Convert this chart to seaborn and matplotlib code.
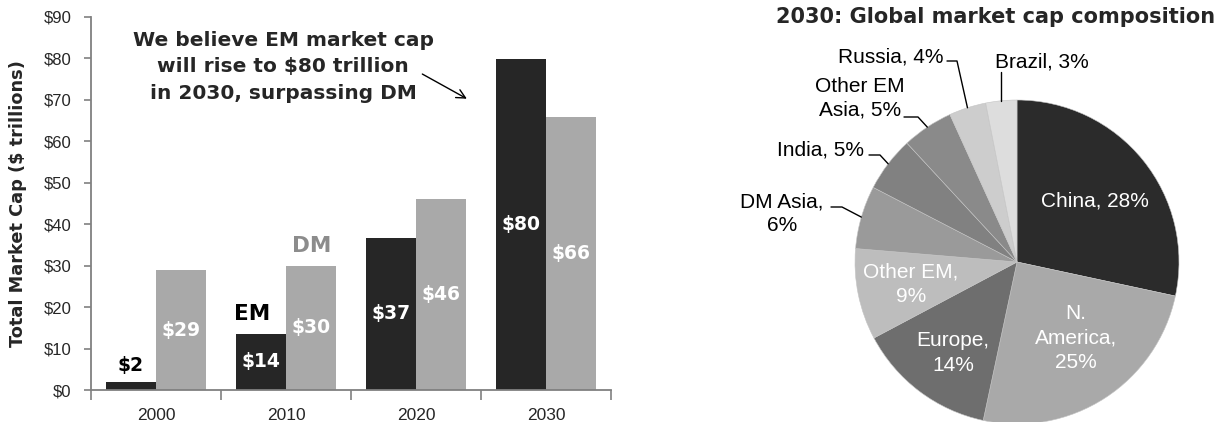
"""EM vs DM market cap bars plus 2030 global market cap composition pie."""
import numpy as np
import pandas as pd
import matplotlib

matplotlib.use("Agg")
import matplotlib.pyplot as plt
import seaborn as sns

# --- data -------------------------------------------------------------------
years = ["2000", "2010", "2020", "2030"]
em_cap = [2.0, 13.6, 36.7, 79.7]
dm_cap = [28.9, 29.9, 46.1, 65.9]
em_labels = ["$2", "$14", "$37", "$80"]
dm_labels = ["$29", "$30", "$46", "$66"]
y_ticks = [0, 10, 20, 30, 40, 50, 60, 70, 80, 90]

regions = ["China", "N. America", "Europe", "Other EM", "DM Asia",
           "India", "Other EM Asia", "Russia", "Brazil"]
shares = [28.4, 25.0, 13.9, 9.1, 6.3, 5.5, 5.1, 3.7, 3.1]
share_labels = ["China, 28%", "N.\nAmerica,\n25%", "Europe,\n14%", "Other EM,\n9%",
                "DM Asia,\n6%", "India, 5%", "Other EM\nAsia, 5%", "Russia, 4%",
                "Brazil, 3%"]
slice_colors = ["#2b2b2b", "#a9a9a9", "#6e6e6e", "#bdbdbd", "#9a9a9a",
                "#818181", "#8a8a8a", "#cdcdcd", "#dddddd"]

EM_COLOR = "#262626"
DM_COLOR = "#a9a9a9"
HEAVY = "DejaVu Sans"

sns.set_style("white")
plt.rcParams["font.family"] = ["Liberation Sans", "DejaVu Sans"]
plt.rcParams["text.parse_math"] = False

fig = plt.figure(figsize=(12.2, 4.22), dpi=100)

# --- bar chart ----------------------------------------------------------------
df = pd.DataFrame({
    "year": years * 2,
    "series": ["EM"] * 4 + ["DM"] * 4,
    "cap": em_cap + dm_cap,
})
ax = fig.add_axes([91 / 1220, 1 - 390 / 422, 520 / 1220, 373.3 / 422])
sns.barplot(data=df, x="year", y="cap", hue="series", order=years,
            hue_order=["EM", "DM"], palette=[EM_COLOR, DM_COLOR],
            width=0.77, saturation=1, legend=False, linewidth=0,
            edgecolor="none", ax=ax)
ax.set_xlim(-0.5, 3.5)
ax.set_ylim(0, 90)
ax.set_yticks(y_ticks)
ax.set_yticklabels([f"${v}" for v in y_ticks])
ax.set_xlabel("")
ax.set_ylabel("Total Market Cap ($ trillions)", fontsize=12.8,
              fontweight="bold", family=HEAVY)
ax.yaxis.set_label_coords(-0.123, 0.5)
for side in ["top", "right"]:
    ax.spines[side].set_visible(False)
for side in ["left", "bottom"]:
    ax.spines[side].set_color("#808080")
    ax.spines[side].set_linewidth(1.3)
ax.tick_params(axis="y", length=5, width=1.2, color="#808080", pad=9,
               labelsize=12, direction="out", left=True)
ax.set_xticks(np.arange(-0.5, 4, 1), minor=True)
ax.tick_params(axis="x", which="major", length=0, pad=13, labelsize=12.5)
ax.tick_params(axis="x", which="minor", length=7, width=1.2, color="#808080",
               direction="out", bottom=True)

em_bars, dm_bars = ax.containers
lab_kw = dict(fontsize=13.5, fontweight="bold", family=HEAVY)
ax.bar_label(em_bars, labels=[l if v >= 5 else "" for l, v in zip(em_labels, em_cap)],
             label_type="center", color="white", **lab_kw)
ax.bar_label(em_bars, labels=[l if v < 5 else "" for l, v in zip(em_labels, em_cap)],
             padding=5, color="black", **lab_kw)
ax.bar_label(dm_bars, labels=dm_labels, label_type="center", color="white", **lab_kw)

ax.text(0.74, 18.4, "EM", ha="center", va="center", fontsize=15.5,
        fontweight="bold", family=HEAVY, color="black")
ax.text(1.20, 34.8, "DM", ha="center", va="center", fontsize=15.5,
        fontweight="bold", family=HEAVY, color="#8c8c8c")

ax.text(0.977, 77.9, "We believe EM market cap\nwill rise to $80 trillion\nin 2030, surpassing DM",
        ha="center", va="center", fontsize=14.5, fontweight="bold", family=HEAVY,
        linespacing=1.5)
ax.annotate("", xy=(2.41, 69.9), xytext=(2.03, 76.5),
            arrowprops=dict(arrowstyle="->", color="black", lw=1, mutation_scale=16))

# --- pie chart ----------------------------------------------------------------
R = 162.0
pax = fig.add_axes([(1017 - R) / 1220, 1 - (262 + R) / 422, 2 * R / 1220, 2 * R / 422])
wedges, _ = pax.pie(shares, colors=slice_colors, startangle=90, counterclock=False,
                    radius=1, wedgeprops=dict(edgecolor="#c4c4c4", linewidth=0.4))
pax.set_xlim(-1, 1)
pax.set_ylim(-1, 1)
pax.axis("off")


def px(x, y):
    """pixel position in the figure -> pie data coordinates"""
    return (x - 1017) / R, (262 - y) / R


# inside labels: (pixel x, pixel y)
inside = {0: (1095, 201), 1: (1076, 338), 2: (953, 353), 3: (911, 284.5)}
for i, (x, y) in inside.items():
    tx, ty = px(x, y)
    pax.text(tx, ty, share_labels[i], ha="center", va="center", fontsize=15,
             color="white", multialignment="center", linespacing=1.35)

# outside labels: text x, text y, ha, leader start, elbow
outside = {
    4: ((782, 213.5), "center", (831, 207), (842, 207)),
    5: ((864, 150), "right", (869, 155), (880, 155)),
    6: ((860, 98.5), "center", (904, 117), (918, 117)),
    7: ((943, 57), "right", (947, 61), (957, 61)),
    8: ((1042, 62), "center", None, None),
}
for i, (tpos, ha, start, elbow) in outside.items():
    tx, ty = px(*tpos)
    pax.text(tx, ty, share_labels[i], ha=ha, va="center", fontsize=15,
             color="black", multialignment="center", linespacing=1.3)
    w = wedges[i]
    mid = np.deg2rad((w.theta1 + w.theta2) / 2)
    ex, ey = np.cos(mid), np.sin(mid)
    if start is None:
        xs, ys = [ex, ex], [px(0, 72)[1], ey]
    else:
        sx, sy = px(*start)
        bx, by = px(*elbow)
        xs, ys = [sx, bx, ex], [sy, by, ey]
    pax.plot(xs, ys, color="black", lw=1, clip_on=False)

fig.text(1215 / 1220, 1 - 17 / 422, "2030: Global market cap composition",
         ha="right", va="center", fontsize=15, fontweight="bold", family=HEAVY)

fig.savefig("out.png", dpi=100)
